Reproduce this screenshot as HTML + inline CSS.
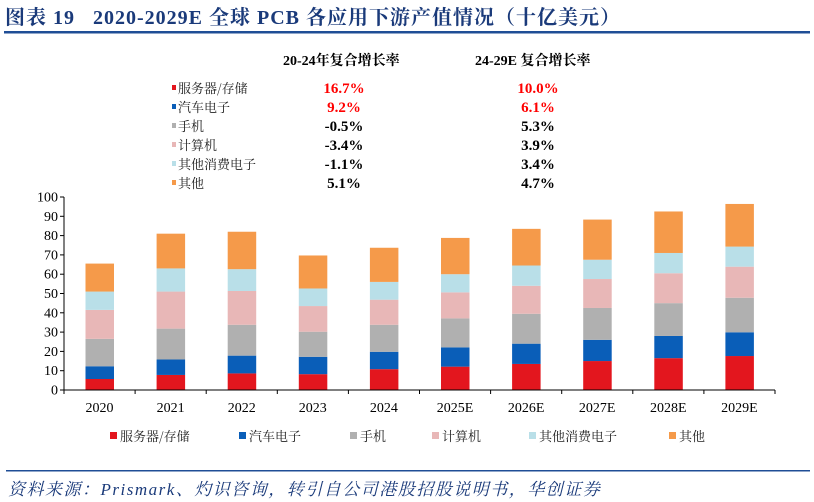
<!DOCTYPE html>
<html><head><meta charset="utf-8"><style>
body{margin:0;width:814px;height:502px;background:#fff;overflow:hidden;font-family:"Liberation Serif","Noto Serif CJK SC",serif}
svg{display:block}
</style></head><body>
<svg id="s" width="814" height="502" xmlns="http://www.w3.org/2000/svg">
<text x="5" y="24" font-size="20" font-weight="bold" letter-spacing="1" fill="#1a3a7a" font-family="Liberation Serif,Noto Serif CJK SC,serif">图表 19&#160;&#160; 2020-2029E 全球 PCB 各应用下游产值情况（十亿美元）</text>
<rect x="4" y="31" width="806" height="2.5" fill="#1f4e96"/>
<g font-weight="bold" font-size="14" fill="#000">
<text x="283" y="65">20-24年复合增长率</text>
<text x="475" y="65">24-29E 复合增长率</text>
</g>
<g font-size="13" font-family="Noto Serif CJK SC,serif" fill="#222">
<rect x="172" y="85" width="4" height="5" fill="#e3161e"/><text x="178" y="93">服务器/存储</text>
<rect x="172" y="104" width="4" height="5" fill="#0a5eb8"/><text x="178" y="112">汽车电子</text>
<rect x="172" y="123" width="4" height="5" fill="#b0b0b0"/><text x="178" y="131">手机</text>
<rect x="172" y="142" width="4" height="5" fill="#e8b7b7"/><text x="178" y="150">计算机</text>
<rect x="172" y="161" width="4" height="5" fill="#b9dfe8"/><text x="178" y="169">其他消费电子</text>
<rect x="172" y="180" width="4" height="5" fill="#f59a4a"/><text x="178" y="188">其他</text>
</g>
<g font-weight="bold" font-size="15" text-anchor="middle">
<text x="344" y="93" fill="#ff0000">16.7%</text><text x="538" y="93" fill="#ff0000">10.0%</text>
<text x="344" y="112" fill="#ff0000">9.2%</text><text x="538" y="112" fill="#ff0000">6.1%</text>
<text x="344" y="131">-0.5%</text><text x="538" y="131">5.3%</text>
<text x="344" y="150">-3.4%</text><text x="538" y="150">3.9%</text>
<text x="344" y="169">-1.1%</text><text x="538" y="169">3.4%</text>
<text x="344" y="188">5.1%</text><text x="538" y="188">4.7%</text>
</g>
<g id="bars"></g>
<g id="ax" stroke="#000" stroke-width="1"></g>
<g id="yl" font-size="14" text-anchor="end"></g>
<g id="xl" font-size="14" text-anchor="middle"></g>
<g font-size="13" font-family="Noto Serif CJK SC,serif" fill="#222">
<rect x="110" y="432" width="7" height="7" fill="#e3161e"/><text x="120" y="441">服务器/存储</text>
<rect x="239" y="432" width="7" height="7" fill="#0a5eb8"/><text x="249" y="441">汽车电子</text>
<rect x="350" y="432" width="7" height="7" fill="#b0b0b0"/><text x="360" y="441">手机</text>
<rect x="432" y="432" width="7" height="7" fill="#e8b7b7"/><text x="442" y="441">计算机</text>
<rect x="529" y="432" width="7" height="7" fill="#b9dfe8"/><text x="539" y="441">其他消费电子</text>
<rect x="669" y="432" width="7" height="7" fill="#f59a4a"/><text x="679" y="441">其他</text>
</g>
<rect x="6" y="470" width="804" height="1.5" fill="#1f4e96"/>
<text x="8" y="495" font-size="17" font-style="italic" letter-spacing="1.5" fill="#1a3a7a" font-family="Liberation Serif,Noto Serif CJK SC,serif">资料来源：Prismark、灼识咨询，转引自公司港股招股说明书，华创证券</text>
</svg>
<script>
var d=[[5.7,12.3,26.5,41.5,51,65.5],[7.8,15.8,31.8,51,63,81],[8.6,17.8,33.8,51.3,62.6,82],[8.2,17.2,30.2,43.5,52.6,69.7],[10.8,19.8,33.8,46.8,56,73.7],[12.1,22.1,37.1,50.6,60,78.8],[13.5,24,39.5,54,64.5,83.5],[15,26,42.5,57.5,67.5,88.3],[16.5,28,45,60.5,71,92.5],[17.6,29.9,47.8,63.9,74.3,96.4]];
var c=["#e3161e","#0a5eb8","#b0b0b0","#e8b7b7","#b9dfe8","#f59a4a"];
var lab=["2020","2021","2022","2023","2024","2025E","2026E","2027E","2028E","2029E"];
var ns="http://www.w3.org/2000/svg";function el(p,t,a,tx){var e=document.createElementNS(ns,t);for(var k in a)e.setAttribute(k,a[k]);if(tx!==undefined)e.textContent=String(tx);document.getElementById(p).appendChild(e);}
var x0=64,w=71.1,y0=390,k=1.93;
d.forEach(function(r,i){var p=0;r.forEach(function(v,j){el("bars","rect",{x:x0+i*w+21.5,y:y0-v*k,width:28.5,height:(v-p)*k,fill:c[j]});p=v;});el("xl","text",{x:x0+i*w+35.5,y:412},lab[i]);});
el("ax","line",{x1:x0,y1:197,x2:x0,y2:y0});el("ax","line",{x1:x0,y1:y0,x2:775,y2:y0});
for(var v=0;v<=100;v+=10){var y=y0-v*k;el("ax","line",{x1:x0-4,y1:y,x2:x0,y2:y});el("yl","text",{x:x0-6,y:y+4.5},v);}
for(var i=0;i<=10;i++){el("ax","line",{x1:x0+i*w,y1:y0,x2:x0+i*w,y2:y0+4});}
</script>
</body></html>
